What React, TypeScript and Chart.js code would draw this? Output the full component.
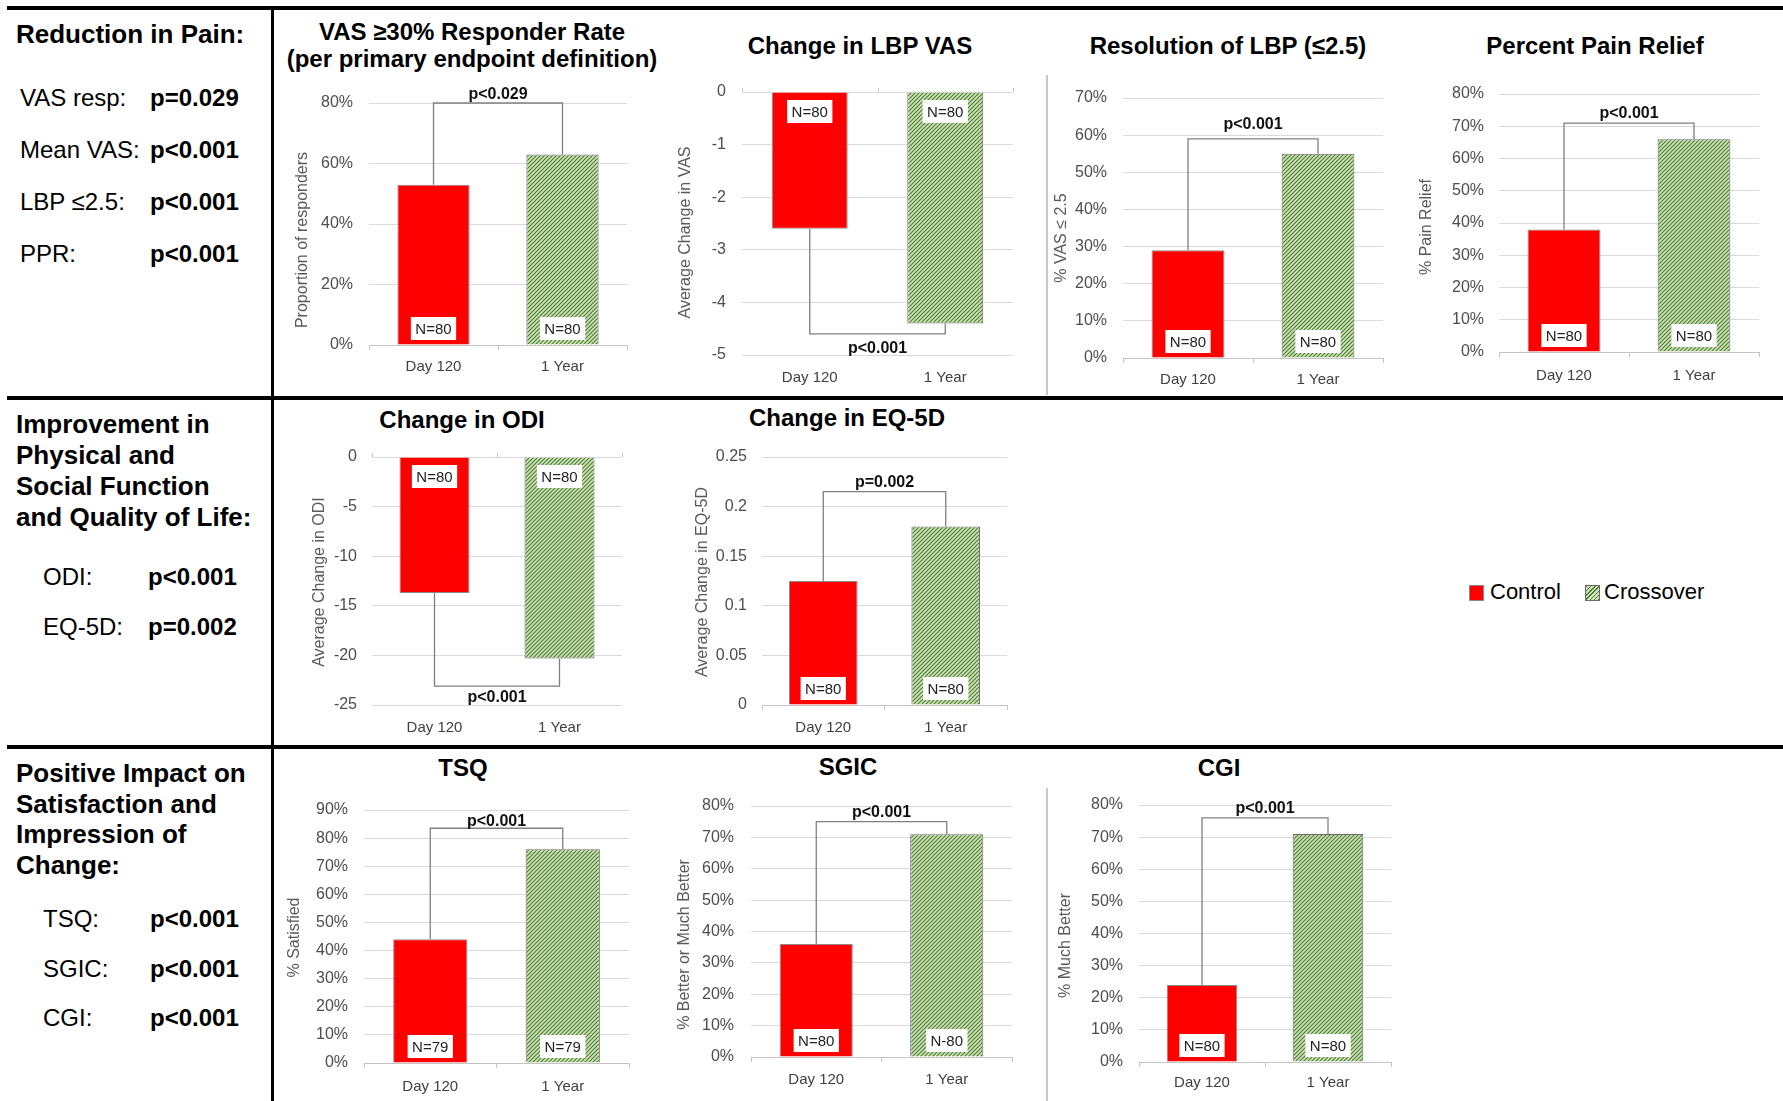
import React, { useEffect, useRef } from 'react';
import { Chart, registerables } from 'chart.js';

Chart.register(...registerables);

const FONT = '"Liberation Sans", Arial, Helvetica, sans-serif';
Chart.defaults.font.family = FONT;

const RED = '#ff0000';
const GREEN_LIGHT = '#cfe3bc';
const GREEN_DARK = '#4f8032';

// ---------- data ----------
const categories = ['Day 120', '1 Year'];

const vasResponderRate = [53, 63];
const lbpVasChange = [-2.6, -4.4];
const lbpResolved = [29, 55];
const painReliefPct = [38, 66];
const odiChange = [-13.7, -20.3];
const eq5dChange = [0.125, 0.18];
const tsqSatisfied = [44, 76];
const sgicImproved = [36, 71];
const cgiMuchBetter = [24, 71];

const nDefault = ['N=80', 'N=80'];
const nTsq = ['N=79', 'N=79'];
const nSgic = ['N=80', 'N-80'];

const bracketLevels = [80, -4.6, 59, 71, -23.1, 0.215, 83.5, 75, 76];
const pValueLabels = ['p<0.029', 'p<0.001', 'p<0.001', 'p<0.001', 'p<0.001', 'p=0.002', 'p<0.001', 'p<0.001', 'p<0.001'];

const pctTicksBy20To80 = [0, 20, 40, 60, 80];
const pctTicksTo70 = [0, 10, 20, 30, 40, 50, 60, 70];
const pctTicksTo80 = [0, 10, 20, 30, 40, 50, 60, 70, 80];
const pctTicksTo90 = [0, 10, 20, 30, 40, 50, 60, 70, 80, 90];
const vasTicks = [-5, -4, -3, -2, -1, 0];
const odiTicks = [-25, -20, -15, -10, -5, 0];
const eq5dTicks = [0, 0.05, 0.1, 0.15, 0.2, 0.25];

const painLabels = ['VAS resp:', 'Mean VAS:', 'LBP \u22642.5:', 'PPR:'];
const painPValues = ['p=0.029', 'p<0.001', 'p<0.001', 'p<0.001'];
const functionLabels = ['ODI:', 'EQ-5D:'];
const functionPValues = ['p<0.001', 'p=0.002'];
const satisfactionLabels = ['TSQ:', 'SGIC:', 'CGI:'];
const satisfactionPValues = ['p<0.001', 'p<0.001', 'p<0.001'];
const legendLabels = ['Control', 'Crossover'];

// ---------- layout ----------
type Frame = {
  left: number; top: number; right: number; bottom: number;
  tickRight: number; yTitleX: number; yTitleDy: number; xLabelY: number;
  titleX: number; titleY: number[]; pGap: number;
};

const frames: Frame[] = [
  { left: 369, top: 103, right: 627, bottom: 345, tickRight: 353, yTitleX: 303, yTitleDy: 16, xLabelY: 367, titleX: 472, titleY: [32, 59], pGap: 8 },
  { left: 742, top: 92, right: 1013, bottom: 355, tickRight: 726, yTitleX: 686, yTitleDy: 9, xLabelY: 378, titleX: 860, titleY: [46], pGap: 15 },
  { left: 1123, top: 98, right: 1383, bottom: 358, tickRight: 1107, yTitleX: 1062, yTitleDy: 10, xLabelY: 380, titleX: 1228, titleY: [46], pGap: 14 },
  { left: 1499, top: 94, right: 1759, bottom: 352, tickRight: 1484, yTitleX: 1427, yTitleDy: 4, xLabelY: 376, titleX: 1595, titleY: [46], pGap: 9 },
  { left: 372, top: 457, right: 622, bottom: 705, tickRight: 357, yTitleX: 320, yTitleDy: 1, xLabelY: 728, titleX: 462, titleY: [420], pGap: 11 },
  { left: 762, top: 457, right: 1007, bottom: 705, tickRight: 747, yTitleX: 703, yTitleDy: 1, xLabelY: 728, titleX: 847, titleY: [418], pGap: 9 },
  { left: 364, top: 810, right: 629, bottom: 1063, tickRight: 348, yTitleX: 295, yTitleDy: 1, xLabelY: 1087, titleX: 463, titleY: [768], pGap: 7 },
  { left: 751, top: 806, right: 1012, bottom: 1057, tickRight: 734, yTitleX: 685, yTitleDy: 13, xLabelY: 1080, titleX: 848, titleY: [767], pGap: 9 },
  { left: 1139, top: 805, right: 1391, bottom: 1062, tickRight: 1123, yTitleX: 1066, yTitleDy: 12, xLabelY: 1083, titleX: 1219, titleY: [768], pGap: 9 },
];

type Panel = {
  title: string[]; yTitle: string; values: number[]; n: string[];
  ticks: number[]; unit: string; level: number; pText: string; frame: Frame;
};

const panelData: Omit<Panel, 'level' | 'pText' | 'frame'>[] = [
  { title: ['VAS \u226530% Responder Rate', '(per primary endpoint definition)'], yTitle: 'Proportion of responders', values: vasResponderRate, n: nDefault, ticks: pctTicksBy20To80, unit: '%' },
  { title: ['Change in LBP VAS'], yTitle: 'Average Change in VAS', values: lbpVasChange, n: nDefault, ticks: vasTicks, unit: '' },
  { title: ['Resolution of LBP (\u22642.5)'], yTitle: '% VAS \u2264 2.5', values: lbpResolved, n: nDefault, ticks: pctTicksTo70, unit: '%' },
  { title: ['Percent Pain Relief'], yTitle: '% Pain Relief', values: painReliefPct, n: nDefault, ticks: pctTicksTo80, unit: '%' },
  { title: ['Change in ODI'], yTitle: 'Average Change in ODI', values: odiChange, n: nDefault, ticks: odiTicks, unit: '' },
  { title: ['Change in EQ-5D'], yTitle: 'Average Change in EQ-5D', values: eq5dChange, n: nDefault, ticks: eq5dTicks, unit: '' },
  { title: ['TSQ'], yTitle: '% Satisfied', values: tsqSatisfied, n: nTsq, ticks: pctTicksTo90, unit: '%' },
  { title: ['SGIC'], yTitle: '% Better or Much Better', values: sgicImproved, n: nSgic, ticks: pctTicksTo80, unit: '%' },
  { title: ['CGI'], yTitle: '% Much Better', values: cgiMuchBetter, n: nDefault, ticks: pctTicksTo80, unit: '%' },
];

const panels: Panel[] = panelData.map((p, i) => ({
  ...p,
  level: bracketLevels[i],
  pText: pValueLabels[i],
  frame: frames[i],
}));

// ---------- drawing helpers ----------
function hatchPattern(ctx: CanvasRenderingContext2D) {
  const s = 4;
  const tile = document.createElement('canvas');
  tile.width = s;
  tile.height = s;
  const g = tile.getContext('2d')!;
  g.fillStyle = GREEN_LIGHT;
  g.fillRect(0, 0, s, s);
  g.strokeStyle = GREEN_DARK;
  g.lineWidth = 1.2;
  g.beginPath();
  g.moveTo(-1, s + 1);
  g.lineTo(s + 1, -1);
  g.moveTo(-1, 1);
  g.lineTo(1, -1);
  g.moveTo(s - 1, s + 1);
  g.lineTo(s + 1, s - 1);
  g.stroke();
  return ctx.createPattern(tile, 'repeat');
}

// significance bracket, p-value text, sample-size boxes and the value-axis title
const bracketPlugin = {
  id: 'sigBracket',
  afterDatasetsDraw(chart: any, _args: any, opts: any) {
    const ctx = chart.ctx as CanvasRenderingContext2D;
    const yScale = chart.scales.y;
    const bars = chart.getDatasetMeta(0).data;
    const values = chart.data.datasets[0].data as number[];
    const base = yScale.getPixelForValue(0);
    const lvl = yScale.getPixelForValue(opts.level);
    const xs = bars.map((b: any) => b.x);
    const ends = values.map((v) => yScale.getPixelForValue(v));
    ctx.save();
    ctx.strokeStyle = '#808080';
    ctx.lineWidth = 1.3;
    ctx.beginPath();
    ctx.moveTo(xs[0], ends[0]);
    ctx.lineTo(xs[0], lvl);
    ctx.lineTo(xs[1], lvl);
    ctx.lineTo(xs[1], ends[1]);
    ctx.stroke();

    // axis line with category ticks at zero for all-negative panels
    if (values.every((v) => v <= 0)) {
      const { left, right } = chart.chartArea;
      ctx.strokeStyle = '#c4c4c4';
      ctx.lineWidth = 1;
      ctx.beginPath();
      [left, (left + right) / 2, right].forEach((x) => {
        ctx.moveTo(Math.round(x) + 0.5, base);
        ctx.lineTo(Math.round(x) + 0.5, base - 4);
      });
      ctx.stroke();
    }

    ctx.textAlign = 'center';
    ctx.textBaseline = 'middle';
    ctx.fillStyle = '#111';
    ctx.font = `bold 16px ${FONT}`;
    const below = opts.level < 0;
    ctx.fillText(opts.text, (xs[0] + xs[1]) / 2, below ? lvl + opts.gap : lvl - opts.gap);

    ctx.font = `15px ${FONT}`;
    values.forEach((v, i) => {
      const w = ctx.measureText(opts.n[i]).width + 9;
      const h = 23;
      const top = v < 0 ? base + 8 : base - 5 - h;
      ctx.fillStyle = '#fff';
      ctx.fillRect(xs[i] - w / 2, top, w, h);
      ctx.fillStyle = '#222';
      ctx.fillText(opts.n[i], xs[i], top + h / 2 + 1);
    });

    // rotated value-axis title
    const { top, bottom } = chart.chartArea;
    ctx.save();
    ctx.translate(opts.titleX, (top + bottom) / 2 + opts.titleDy);
    ctx.rotate(-Math.PI / 2);
    ctx.font = `${Y_TITLE_SIZE}px ${FONT}`;
    ctx.fillStyle = '#595959';
    ctx.fillText(opts.yTitle, 0, 0);
    ctx.restore();

    ctx.restore();
  },
};

const Y_TITLE_SIZE = 16;
const X_FONT_SIZE = 15;
const PAD_TOP = 44;
const PAD_RIGHT = 12;

function BarPanel({ p }: { p: Panel }) {
  const ref = useRef<HTMLCanvasElement>(null);
  const f = p.frame;
  const boxLeft = f.yTitleX - 14;
  const boxTop = f.top - PAD_TOP;
  const boxBottom = f.xLabelY + 14;
  const width = Math.round(f.right + PAD_RIGHT - boxLeft);
  const height = Math.round(boxBottom - boxTop);
  const yAxisWidth = f.left - boxLeft;
  const xAxisHeight = boxBottom - f.bottom;
  const negative = p.values.every((v) => v <= 0);
  const tickLen = negative ? 0 : 5;

  useEffect(() => {
    const canvas = ref.current!;
    const ctx = canvas.getContext('2d')!;
    const chart = new Chart(ctx, {
      type: 'bar',
      data: {
        labels: categories,
        datasets: [
          {
            data: p.values,
            backgroundColor: [RED, hatchPattern(ctx) as any],
            borderColor: ['#8a8a8a', '#6b6b6b'],
            borderWidth: 1,
            barPercentage: 0.56,
            categoryPercentage: 1,
          },
        ],
      },
      options: {
        responsive: false,
        animation: false,
        layout: { padding: { top: PAD_TOP, right: PAD_RIGHT, left: 0, bottom: 0 } },
        plugins: {
          legend: { display: false },
          tooltip: { enabled: false },
          sigBracket: {
            level: p.level,
            text: p.pText,
            gap: f.pGap,
            n: p.n,
            yTitle: p.yTitle,
            titleX: f.yTitleX - boxLeft,
            titleDy: f.yTitleDy,
          },
        } as any,
        scales: {
          x: {
            afterFit: (s: any) => { s.height = xAxisHeight; },
            ticks: {
              padding: f.xLabelY - f.bottom - tickLen - (X_FONT_SIZE * 1.2) / 2,
              color: '#404040',
              font: { family: FONT, size: X_FONT_SIZE },
            },
            grid: negative
              ? { display: false, drawTicks: false, tickLength: 0 }
              : { display: true, drawOnChartArea: false, drawTicks: true, tickLength: tickLen, color: '#c4c4c4', offset: true },
            border: { display: !negative, color: '#c4c4c4' },
          },
          y: {
            min: p.ticks[0],
            max: p.ticks[p.ticks.length - 1],
            afterBuildTicks: (s: any) => { s.ticks = p.ticks.map((v) => ({ value: v })); },
            afterFit: (s: any) => { s.width = yAxisWidth; },
            ticks: {
              padding: f.left - f.tickRight,
              color: '#4d4d4d',
              font: { family: FONT, size: 16 },
              callback: (v: any) => `${v}${p.unit}`,
            },
            grid: { color: '#dadada', lineWidth: 1, drawTicks: false },
            border: { display: false },
            title: { display: false },
          },
        },
      } as any,
      plugins: [bracketPlugin],
    });
    return () => chart.destroy();
  }, []);

  return (
    <canvas
      ref={ref}
      width={width}
      height={height}
      style={{ position: 'absolute', left: boxLeft, top: boxTop, width, height }}
    />
  );
}

function Text({ x, y, size, bold, center, children }: any) {
  return (
    <div
      style={{
        position: 'absolute',
        left: x,
        top: y,
        transform: center ? 'translate(-50%, -50%)' : 'translateY(-50%)',
        fontFamily: FONT,
        fontSize: size,
        fontWeight: bold ? 700 : 400,
        lineHeight: 1,
        whiteSpace: 'nowrap',
        color: '#000',
      }}
    >
      {children}
    </div>
  );
}

function Rule({ x, y, w, h, color }: any) {
  return <div style={{ position: 'absolute', left: x, top: y, width: w, height: h, background: color }} />;
}

export default function App() {
  const painY = [98, 150, 202, 254];
  const functionY = [577, 627];
  const satisfactionY = [919, 969, 1018];
  return (
    <div
      style={{
        position: 'absolute',
        left: 0,
        top: 0,
        width: 1783,
        height: 1101,
        background: '#fff',
        overflow: 'hidden',
      }}
    >
      {/* frame */}
      <Rule x={7} y={6} w={1776} h={4} color="#000" />
      <Rule x={7} y={396} w={1776} h={4} color="#000" />
      <Rule x={7} y={745} w={1776} h={4} color="#000" />
      <Rule x={271} y={6} w={3} h={1095} color="#000" />
      <Rule x={1046} y={75} w={1.5} h={320} color="#c8c8c8" />
      <Rule x={1046} y={788} w={1.5} h={313} color="#c8c8c8" />

      {/* summary column */}
      <Text x={16} y={34} size={26} bold>Reduction in Pain:</Text>
      {painLabels.map((t, i) => (
        <Text key={t} x={20} y={painY[i]} size={24}>{t}</Text>
      ))}
      {painPValues.map((t, i) => (
        <Text key={i} x={150} y={painY[i]} size={24} bold>{t}</Text>
      ))}

      {['Improvement in', 'Physical and', 'Social Function', 'and Quality of Life:'].map((t, i) => (
        <Text key={t} x={16} y={424 + i * 31} size={26} bold>{t}</Text>
      ))}
      {functionLabels.map((t, i) => (
        <Text key={t} x={43} y={functionY[i]} size={24}>{t}</Text>
      ))}
      {functionPValues.map((t, i) => (
        <Text key={i} x={148} y={functionY[i]} size={24} bold>{t}</Text>
      ))}

      {['Positive Impact on', 'Satisfaction and', 'Impression of', 'Change:'].map((t, i) => (
        <Text key={t} x={16} y={773 + i * 30.7} size={26} bold>{t}</Text>
      ))}
      {satisfactionLabels.map((t, i) => (
        <Text key={t} x={43} y={satisfactionY[i]} size={24}>{t}</Text>
      ))}
      {satisfactionPValues.map((t, i) => (
        <Text key={i} x={150} y={satisfactionY[i]} size={24} bold>{t}</Text>
      ))}

      {/* panel titles */}
      {panels.map((p, i) =>
        p.title.map((t, j) => (
          <Text key={`${i}-${j}`} x={p.frame.titleX} y={p.frame.titleY[j]} size={24} bold center>{t}</Text>
        ))
      )}

      {panels.map((p, i) => (
        <BarPanel key={i} p={p} />
      ))}

      {/* legend */}
      <div style={{ position: 'absolute', left: 1469, top: 585, width: 13, height: 14, background: RED, border: '1px solid #8a8a8a' }} />
      <Text x={1490} y={592} size={22}>{legendLabels[0]}</Text>
      <div
        style={{
          position: 'absolute',
          left: 1585,
          top: 585,
          width: 13,
          height: 14,
          border: '1px solid #6b6b6b',
          background: `repeating-linear-gradient(-45deg, ${GREEN_DARK} 0px, ${GREEN_DARK} 1px, ${GREEN_LIGHT} 1px, ${GREEN_LIGHT} 3px)`,
        }}
      />
      <Text x={1604} y={592} size={22}>{legendLabels[1]}</Text>
    </div>
  );
}
